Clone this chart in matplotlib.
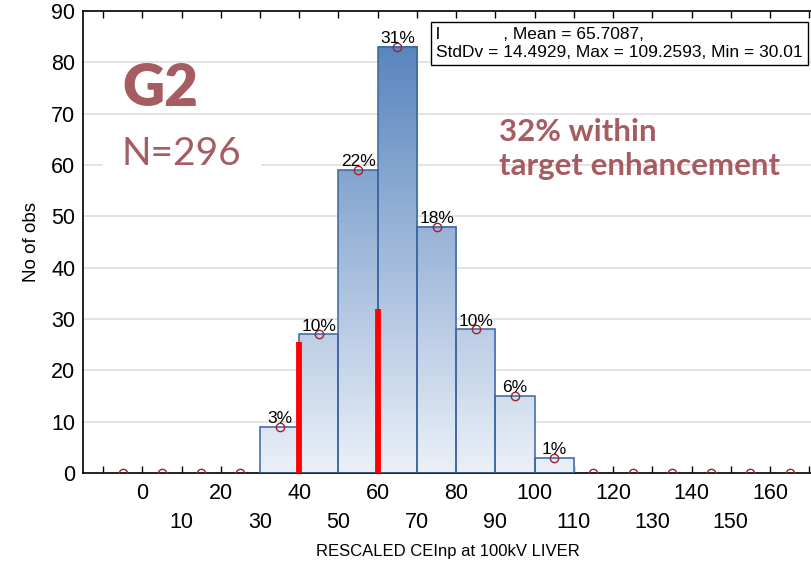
import numpy as np
import matplotlib
matplotlib.use("Agg")
import matplotlib.pyplot as plt
from matplotlib.colors import LinearSegmentedColormap

plt.rcParams['font.family'] = ['Liberation Sans', 'DejaVu Sans']

# ---------------------------------------------------------------------------
# données
bin_centres = [-5, 5, 15, 25, 35, 45, 55, 65, 75, 85, 95, 105,
               115, 125, 135, 145, 155, 165]
effectifs = [0, 0, 0, 0, 9, 27, 59, 83, 48, 28, 15, 3,
             0, 0, 0, 0, 0, 0]
pourcents = ['', '', '', '', '3%', '10%', '22%', '31%', '18%', '10%', '6%', '1%',
             '', '', '', '', '', '']
largeur = 10

seuils = [40, 60]           # lignes rouges (cible)
hauteurs_seuils = [25.5, 32]

ticks_haut = [0, 20, 40, 60, 80, 100, 120, 140, 160]
ticks_bas = [-10, 10, 30, 50, 70, 90, 110, 130, 150, 170]
labels_bas = ['', '10', '30', '50', '70', '90', '110', '130', '150', '']

texte_stats = "l             , Mean = 65.7087,\nStdDv = 14.4929, Max = 109.2593, Min = 30.01"
rouge_txt = '#a65c61'

# ---------------------------------------------------------------------------
fig = plt.figure(figsize=(8.12, 5.62), dpi=100)
ax = fig.add_axes([83.5/812, 89/562, (812-83.5)/812, (473-11)/562])

cmap = LinearSegmentedColormap.from_list('bleu', ['#ebf0f8', '#5683bd'])

for c, n in zip(bin_centres, effectifs):
    if n <= 0:
        continue
    x0, x1 = c - largeur/2, c + largeur/2
    grad = np.linspace(0, n, 200).reshape(-1, 1)
    ax.imshow(grad, extent=[x0, x1, 0, n], origin='lower', aspect='auto',
              cmap=cmap, vmin=0, vmax=85, zorder=2)
    ax.bar(c, n, width=largeur, facecolor='none', edgecolor='#3a66a2',
           linewidth=1.1, zorder=3)

ax.vlines(seuils, 0, hauteurs_seuils, color='#ff0000', linewidth=4.2, zorder=4)

ax.plot(bin_centres, effectifs, linestyle='none', marker='o', markersize=6,
        markerfacecolor='none', markeredgecolor='#a3212b', markeredgewidth=1,
        zorder=5)

for c, n, p in zip(bin_centres, effectifs, pourcents):
    if p:
        ax.annotate(p, (c, n), xytext=(0, 0.5), textcoords='offset points',
                    ha='center', va='bottom', fontsize=12.5, zorder=6)

ax.set_xlim(-15, 170.7)
ax.set_ylim(0, 90)

ax.set_xticks(ticks_haut)
ax.set_xticklabels([str(t) for t in ticks_haut])
ax.set_xticks(ticks_bas, minor=True)
ax.set_xticklabels(labels_bas, minor=True)
ax.tick_params(axis='x', which='both', direction='in', top=True, length=5,
               width=1, labelsize=15.5)
ax.tick_params(axis='x', which='major', pad=7)
ax.tick_params(axis='x', which='minor', pad=28)
ax.set_yticks(range(0, 91, 10))
ax.tick_params(axis='y', direction='in', length=0, labelsize=15.5, pad=6)

ax.yaxis.grid(True, color='#dedede', linewidth=1.2, zorder=0)
ax.set_axisbelow(True)
ax.spines['right'].set_visible(False)
for s in ['left', 'bottom', 'top']:
    ax.spines[s].set_linewidth(1.2)

ax.set_xlabel('RESCALED CEInp at 100kV LIVER', fontsize=12, labelpad=8)
ax.set_ylabel('No of obs', fontsize=13.5, labelpad=8)

# annotations
fig.text(122/812, 1 - 106/562, 'G2', fontsize=42, fontweight='heavy',
         family=['Lato', 'DejaVu Sans'], color=rouge_txt, ha='left', va='baseline')
fig.text(122/812, 1 - 165/562, 'N=296', fontsize=28, fontweight='normal',
         family=['Lato', 'DejaVu Sans'], color=rouge_txt, ha='left', va='baseline',
         bbox=dict(facecolor='white', edgecolor='none', pad=14))
fig.text(499/812, 1 - 141/562, '32% within', fontsize=22.5, fontweight='bold',
         family=['Lato', 'DejaVu Sans'], color=rouge_txt, ha='left', va='baseline')
fig.text(499/812, 1 - 175/562, 'target enhancement', fontsize=22.5, fontweight='bold',
         family=['Lato', 'DejaVu Sans'], color=rouge_txt, ha='left', va='baseline')

fig.text(436/812, 1 - 43.5/562, texte_stats, fontsize=12.5, ha='left', va='center',
         linespacing=1.25,
         bbox=dict(facecolor='white', edgecolor='black', linewidth=1,
                   boxstyle='square,pad=0.3'))

fig.savefig('out.png', dpi=100)
